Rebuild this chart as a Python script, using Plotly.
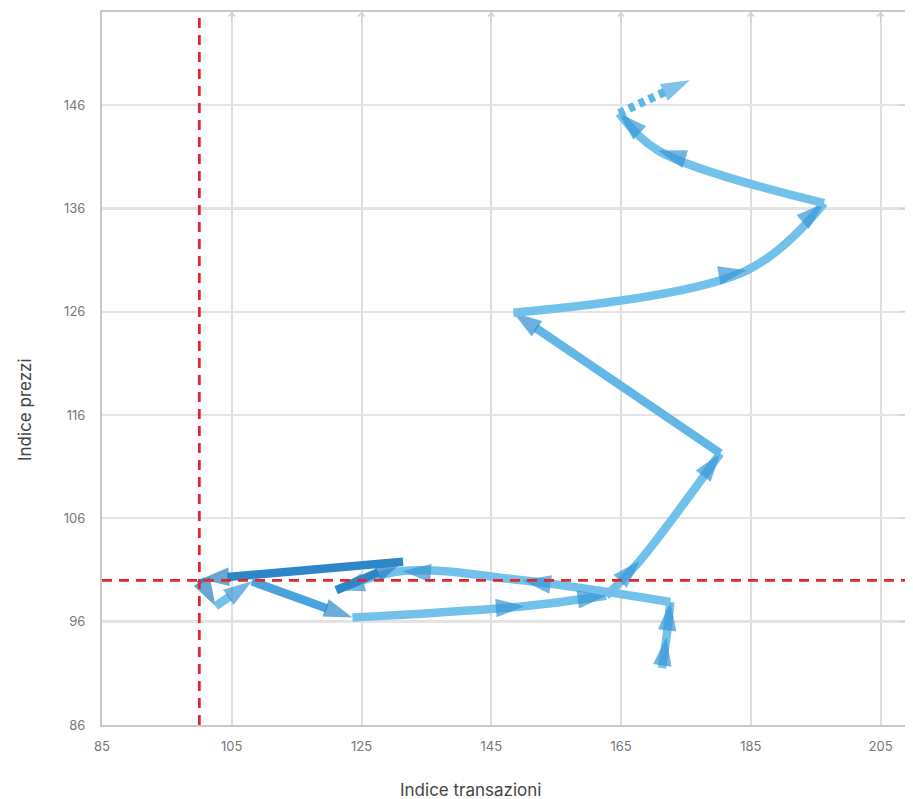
import plotly.graph_objects as go

# ---- data (time order of the market cycle) ----
indice_transazioni = [171.3, 172.0, 172.6, 149.8, 131.3, 121.1, 131.4, 100.2, 102.5, 108.1,
                      123.6, 150.1, 162.7, 167.9, 180.3, 148.4, 184.4, 196.3, 170.7, 164.7, 175.6]
indice_prezzi = [91.5, 94.5, 97.9, 100.0, 100.9, 99.05, 101.8, 100.1, 97.5, 99.9,
                 96.4, 97.5, 98.5, 101.9, 112.3, 125.9, 130.0, 136.5, 141.6, 145.2, 148.4]

# strokes of the path: first / last index of each smoothed stroke and its tone
tratti_inizio = [0, 2, 5, 6, 7, 8, 9, 10, 12, 14, 15, 17, 19]
tratti_fine = [2, 5, 6, 7, 8, 9, 10, 12, 14, 15, 17, 19, 20]
tratti_tono = ["chiaro", "chiaro", "scuro", "scuro", "scuro", "chiaro", "medio",
               "chiaro", "chiaro", "intermedio", "chiaro", "chiaro", "tratteggio"]

rif_x = 100
rif_y = 100
x_ticks = [85, 105, 125, 145, 165, 185, 205]
y_ticks = [86, 96, 106, 116, 126, 136, 146]
y_grid_scure = [96, 136]
x_range = [85, 210]
y_range = [86, 155]

toni = {
    "chiaro": dict(line="#72C1EA", arrow="#3795D6", dash="solid"),
    "intermedio": dict(line="#62B7E6", arrow="#2F8DD0", dash="solid"),
    "medio": dict(line="#4AA4DC", arrow="#2D89CC", dash="solid"),
    "scuro": dict(line="#2C86C8", arrow="#2A80C2", dash="solid"),
    "tratteggio": dict(line="#5DB7E6", arrow="#4AA8E0", dash="6px,5px"),
}

fig = go.Figure()

# darker horizontal gridlines
for yv in y_grid_scure:
    fig.add_shape(type="line", xref="paper", x0=0, x1=1, yref="y", y0=yv, y1=yv,
                  line=dict(color="#c2c2c2", width=2.2), layer="between")

for s, e, tono in zip(tratti_inizio, tratti_fine, tratti_tono):
    xs = indice_transazioni[s:e + 1]
    ys = indice_prezzi[s:e + 1]
    st = toni[tono]
    fig.add_trace(go.Scatter(
        x=xs, y=ys, mode="lines+markers",
        line=dict(color=st["line"], width=8.5, shape="spline" if len(xs) > 2 else "linear",
                  smoothing=1.0, dash=st["dash"]),
        marker=dict(symbol="arrow", angleref="previous", size=[0] + [30] * (len(xs) - 1),
                    color=st["arrow"], line=dict(width=0)),
        hoverinfo="skip", showlegend=False,
    ))

# red reference lines (above the path)
fig.add_trace(go.Scatter(x=[rif_x, rif_x], y=y_range, mode="lines",
                         line=dict(color="#E3262B", width=2.8, dash="10px,7px"),
                         hoverinfo="skip", showlegend=False))
fig.add_trace(go.Scatter(x=x_range, y=[rif_y, rif_y], mode="lines",
                         line=dict(color="#E3262B", width=2.8, dash="10px,7px"),
                         hoverinfo="skip", showlegend=False))

# little arrow tips on gridlines
ann = []
for xv in x_ticks[1:]:
    ann.append(dict(x=xv, y=y_range[1], xref="x", yref="y", text="", showarrow=True,
                    ax=0, ay=12, arrowhead=4, arrowsize=1.3, arrowwidth=1,
                    arrowcolor="#cfcfcf"))
for yv in y_ticks[1:]:
    ann.append(dict(x=0.996, y=yv, xref="paper", yref="y", text="", showarrow=True,
                    ax=-12, ay=0, arrowhead=4, arrowsize=1.3, arrowwidth=1,
                    arrowcolor="#cfcfcf"))

ann.append(dict(text="Indice transazioni", xref="paper", yref="paper",
                x=(470 - 102) / 811, y=-(790 - 725) / 713, showarrow=False,
                xanchor="center", yanchor="middle",
                font=dict(family="Inter", size=17, color="#444")))
ann.append(dict(text="Indice prezzi", xref="paper", yref="paper",
                x=(25 - 102) / 811, y=(725 - 410) / 713, showarrow=False, textangle=-90,
                xanchor="center", yanchor="middle",
                font=dict(family="Inter", size=17, color="#444")))

# the page body adds an 8px margin, so the figure is 8px smaller on each side
fig.update_layout(
    width=905, height=791,
    margin=dict(l=94, r=0, t=4, b=74),
    paper_bgcolor="white", plot_bgcolor="white",
    annotations=ann,
    xaxis=dict(range=x_range, tickvals=x_ticks, showgrid=True, gridcolor="#dedede",
               gridwidth=1.5, zeroline=False, showline=True, linecolor="#c8c8c8",
               linewidth=2, mirror=True, ticks="", ticklabelstandoff=8,
               tickfont=dict(family="Inter", size=13, color="#777")),
    yaxis=dict(range=y_range, tickvals=y_ticks, showgrid=True, gridcolor="#e4e4e4",
               gridwidth=1.5, zeroline=False, showline=True, linecolor="#c8c8c8",
               linewidth=2, ticks="", ticklabelstandoff=12,
               tickfont=dict(family="Inter", size=13, color="#777")),
)

fig.write_html("out.html")
